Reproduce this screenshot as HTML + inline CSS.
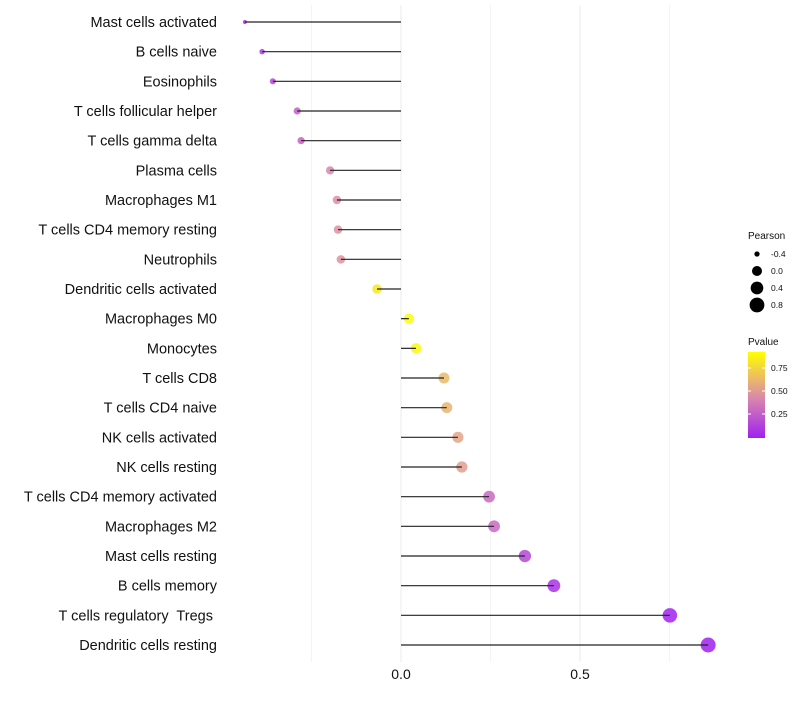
<!DOCTYPE html>
<html><head><meta charset="utf-8"><style>
body{margin:0;background:#fff;font-family:"Liberation Sans",sans-serif}
text{white-space:pre}
</style></head><body>
<svg id="chart" width="800" height="700" xmlns="http://www.w3.org/2000/svg"></svg>
<script>
const categories=["Mast cells activated","B cells naive","Eosinophils","T cells follicular helper","T cells gamma delta","Plasma cells","Macrophages M1","T cells CD4 memory resting","Neutrophils","Dendritic cells activated","Macrophages M0","Monocytes","T cells CD8","T cells CD4 naive","NK cells activated","NK cells resting","T cells CD4 memory activated","Macrophages M2","Mast cells resting","B cells memory","T cells regulatory  Tregs ","Dendritic cells resting"];
const pearson=[-0.436,-0.388,-0.358,-0.29,-0.279,-0.198,-0.179,-0.176,-0.168,-0.067,0.022,0.042,0.12,0.128,0.159,0.17,0.246,0.26,0.346,0.427,0.751,0.858];
const pvalue=[0.05,0.12,0.17,0.26,0.27,0.42,0.46,0.47,0.48,0.84,0.92,0.9,0.64,0.62,0.55,0.52,0.3,0.3,0.16,0.07,0.01,0.001];
const xTicks=[0,0.5];
const xTickLabels=["0.0","0.5"];
const gridVals=[-0.25,0,0.25,0.5,0.75];
const sizeLegend=[-0.4,0,0.4,0.8];
const colorTicks=[0.25,0.5,0.75];

const svg=document.getElementById('chart');const NS="http://www.w3.org/2000/svg";
function mk(t,a,p){const e=document.createElementNS(NS,t);for(const k in a)e.setAttribute(k,a[k]);(p||svg).appendChild(e);return e;}
const x=v=>401+v*358;
const y=i=>22+i*(623/21);
const r=p=>1.5+6*Math.sqrt(Math.max(0,(p+0.445))/1.3);
function lerp(a,b,t){return a.map((v,i)=>Math.round(v+(b[i]-v)*t));}
function col(p){const s=[[0,[160,32,240]],[0.45,[220,140,170]],[0.93,[255,255,0]]];
 let q=Math.min(0.93,Math.max(0,p));for(let i=0;i<2;i++){if(q<=s[i+1][0]){const c=lerp(s[i][1],s[i+1][1],(q-s[i][0])/(s[i+1][0]-s[i][0]));return `rgb(${c})`;}}return 'rgb(255,255,0)';}
const grid=mk('g',{});
gridVals.forEach(v=>{const l=mk('line',{x1:x(v),x2:x(v),y1:5,y2:662,stroke:v%0.5===0?'#ebebeb':'#f4f4f4','stroke-width':1},grid);});
categories.forEach((c,i)=>{
 const t=mk('text',{x:217,y:y(i)+5,'text-anchor':'end','font-size':14.5,fill:'#111'});t.textContent=c;
 
 const pt=mk('circle',{cx:x(pearson[i]),cy:y(i),r:r(pearson[i]),fill:col(pvalue[i]),'fill-opacity':0.85});
 
 const ln=mk('line',{x1:x(0),x2:x(pearson[i]),y1:y(i),y2:y(i),stroke:'#222','stroke-width':1.2});
 
});
xTicks.forEach((v,i)=>{const t=mk('text',{x:x(v),y:679,'text-anchor':'middle','font-size':14,fill:'#111'});t.textContent=xTickLabels[i];});
const lg=mk('g',{});
let tt=mk('text',{x:748,y:239,'font-size':10,fill:'#111'},lg);tt.textContent='Pearson';
sizeLegend.forEach((p,i)=>{const cy=254+i*17;const c=mk('circle',{cx:757,cy:cy,r:r(p),fill:'#000'},lg);
 const t=mk('text',{x:771,y:cy+3,'font-size':8.5,fill:'#111'},lg);t.textContent=p.toFixed(1);});
const cg=mk('g',{});
tt=mk('text',{x:748,y:345,'font-size':10,fill:'#111'},cg);tt.textContent='Pvalue';
const defs=mk('defs',{});const gr=mk('linearGradient',{id:'pg',x1:0,y1:1,x2:0,y2:0},defs);
[0,0.25,0.45,0.7,1].forEach(o=>mk('stop',{offset:o,'stop-color':col(o*0.93)},gr));
const cb=mk('rect',{x:748,y:352,width:17,height:86,fill:'url(#pg)'},cg);
const cy=v=>437-v*92;
colorTicks.forEach(v=>{mk('line',{x1:748,x2:751,y1:cy(v),y2:cy(v),stroke:'#fff'},cg);mk('line',{x1:762,x2:765,y1:cy(v),y2:cy(v),stroke:'#fff'},cg);
 const t=mk('text',{x:771,y:cy(v)+3,'font-size':8.5,fill:'#111'},cg);t.textContent=v.toFixed(2);});
</script>
</body></html>
